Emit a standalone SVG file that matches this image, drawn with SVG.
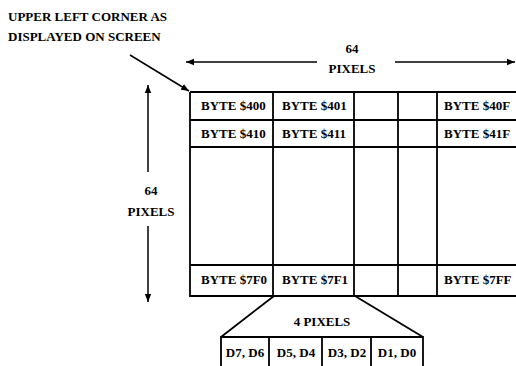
<svg xmlns="http://www.w3.org/2000/svg" width="516" height="366" viewBox="0 0 516 366">
<defs>
<marker id="ah" viewBox="0 0 10 10" refX="10" refY="5" markerWidth="8" markerHeight="8" markerUnits="userSpaceOnUse" orient="auto">
<path d="M0,1 L10,5 L0,9 Z" fill="#000"/>
</marker>
<style>
text{font-family:"Liberation Serif","Times New Roman",serif;font-weight:bold;fill:#000;}
.t{font-size:13px;}
.c{text-anchor:middle;}
.ln{stroke:#000;stroke-width:1.8;fill:none;}
.ar{stroke:#000;stroke-width:1.5;fill:none;}
</style>
</defs>
<rect width="516" height="366" fill="#fff"/>
<g id="label-corner">
<text class="t" x="8" y="21">UPPER LEFT CORNER AS</text>
<text class="t" x="8" y="41">DISPLAYED ON SCREEN</text>
</g>
<g id="label-width">
<text class="t c" x="352" y="53">64</text>
<text class="t c" x="352" y="73">PIXELS</text>
</g>
<g id="label-height">
<text class="t c" x="151" y="195">64</text>
<text class="t c" x="151" y="216">PIXELS</text>
</g>
<g id="grid">
<path class="ln" d="M190,92 H516 M190,92 V296 H516 M190,120 H516 M190,147 H516 M190,265 H516 M273,92 V296 M354,92 V296 M398,92 V296 M437,92 V296"/>
<text class="t" x="201" y="110">BYTE $400</text>
<text class="t" x="282" y="110">BYTE $401</text>
<text class="t" x="444" y="110">BYTE $40F</text>
<text class="t" x="201" y="138">BYTE $410</text>
<text class="t" x="282" y="138">BYTE $411</text>
<text class="t" x="444" y="138">BYTE $41F</text>
<text class="t" x="201" y="284">BYTE $7F0</text>
<text class="t" x="282" y="284">BYTE $7F1</text>
<text class="t" x="444" y="284">BYTE $7FF</text>
</g>
<g id="byte-detail">
<text class="t c" x="322" y="326">4 PIXELS</text>
<path class="ln" d="M221,366 V337 H423 V366 M269,337 V366 M322,337 V366 M371,337 V366"/>
<text class="t c" x="245" y="357">D7, D6</text>
<text class="t c" x="296" y="357">D5, D4</text>
<text class="t c" x="347" y="357">D3, D2</text>
<text class="t c" x="397" y="357">D1, D0</text>
</g>
<g id="connectors">
<line class="ar" x1="317" y1="62" x2="186" y2="62" marker-end="url(#ah)"/>
<line class="ar" x1="395" y1="62" x2="515" y2="62" marker-end="url(#ah)"/>
<line class="ar" x1="148" y1="172" x2="148" y2="85" marker-end="url(#ah)"/>
<line class="ar" x1="148" y1="226" x2="148" y2="302" marker-end="url(#ah)"/>
<line class="ar" x1="130" y1="55" x2="189" y2="91" marker-end="url(#ah)"/>
<line class="ln" x1="274" y1="296" x2="221" y2="337"/>
<line class="ln" x1="355" y1="296" x2="423" y2="337"/>
</g>
</svg>
